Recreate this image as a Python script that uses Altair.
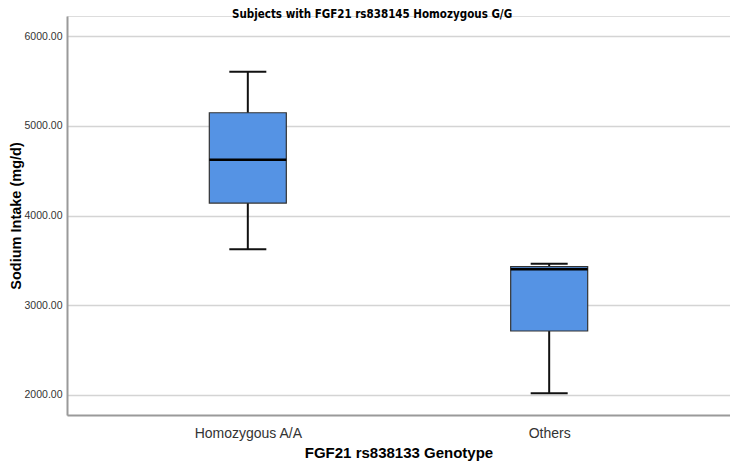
import altair as alt
import pandas as pd

genotypes = ["Homozygous A/A", "Others"]
lower = [3623, 2019]
q1 = [4139, 2713]
median = [4622, 3400]
q3 = [5145, 3430]
upper = [5602, 3463]

df = pd.DataFrame({
    "genotype": genotypes,
    "lower": lower,
    "q1": q1,
    "median": median,
    "q3": q3,
    "upper": upper,
})

x_enc = alt.X(
    "genotype:N",
    sort=genotypes,
    scale=alt.Scale(type="point", padding=0.6),
    axis=alt.Axis(
        title="FGF21 rs838133 Genotype",
        labelAngle=0,
        labelFontSize=14,
        labelColor="#333333",
        labelFont="Liberation Sans",
        labelPadding=11,
        ticks=False,
        domainColor="#9a9a9a",
        domainWidth=2,
        titleFontSize=15,
        titleFont="Liberation Sans",
        titleFontWeight="bold",
        titleColor="#000000",
        titlePadding=5,
        grid=False,
    ),
)

y_scale = alt.Scale(domain=[1777, 6223], nice=False, zero=False)
y_axis = alt.Axis(
    title="Sodium Intake (mg/d)",
    values=[2000, 3000, 4000, 5000, 6000],
    format=".2f",
    labelFontSize=10.5,
    labelColor="#333333",
    labelFont="Liberation Sans",
    labelPadding=5,
    ticks=False,
    domainColor="#9a9a9a",
    domainWidth=2,
    grid=True,
    gridColor="#d4d4d4",
    gridWidth=1.5,
    titleFontSize=14.5,
    titleFont="Liberation Sans",
    titleFontWeight="bold",
    titleColor="#000000",
    titleX=-44,
    titleBaseline="bottom",
)

base = alt.Chart(df)

whisker = base.mark_rule(color="#111111", strokeWidth=2).encode(
    x=x_enc,
    y=alt.Y("lower:Q", scale=y_scale, axis=y_axis),
    y2="upper:Q",
)

box = base.mark_bar(size=77, fill="#5593E4", stroke="#333333", strokeWidth=1.2).encode(
    x=x_enc,
    y=alt.Y("q1:Q", scale=y_scale, axis=y_axis),
    y2="q3:Q",
)

med = base.mark_tick(size=77, thickness=2.5, color="#000000", opacity=1).encode(
    x=x_enc,
    y=alt.Y("median:Q", scale=y_scale, axis=y_axis),
)

cap_lo = base.mark_tick(size=37, thickness=2, color="#111111", opacity=1).encode(
    x=x_enc,
    y=alt.Y("lower:Q", scale=y_scale, axis=y_axis),
)
cap_hi = base.mark_tick(size=37, thickness=2, color="#111111", opacity=1).encode(
    x=x_enc,
    y=alt.Y("upper:Q", scale=y_scale, axis=y_axis),
)

chart = alt.layer(whisker, cap_lo, cap_hi, box, med).properties(
    width=663,
    height=399,
    title=alt.TitleParams(
        text="Subjects with FGF21 rs838145 Homozygous G/G",
        anchor="start",
        frame="group",
        dx=165,
        offset=-4,
        fontSize=11.5,
        font="DejaVu Sans Condensed, Liberation Sans",
        fontWeight="bold",
        color="#000000",
    ),
    autosize=alt.AutoSizeParams(type="none"),
    padding={"left": 59, "top": 8, "right": 0, "bottom": 49},
).configure_view(stroke=None).configure(background="white")

chart.save("out.html", embed_options={"renderer": "svg", "actions": False})
